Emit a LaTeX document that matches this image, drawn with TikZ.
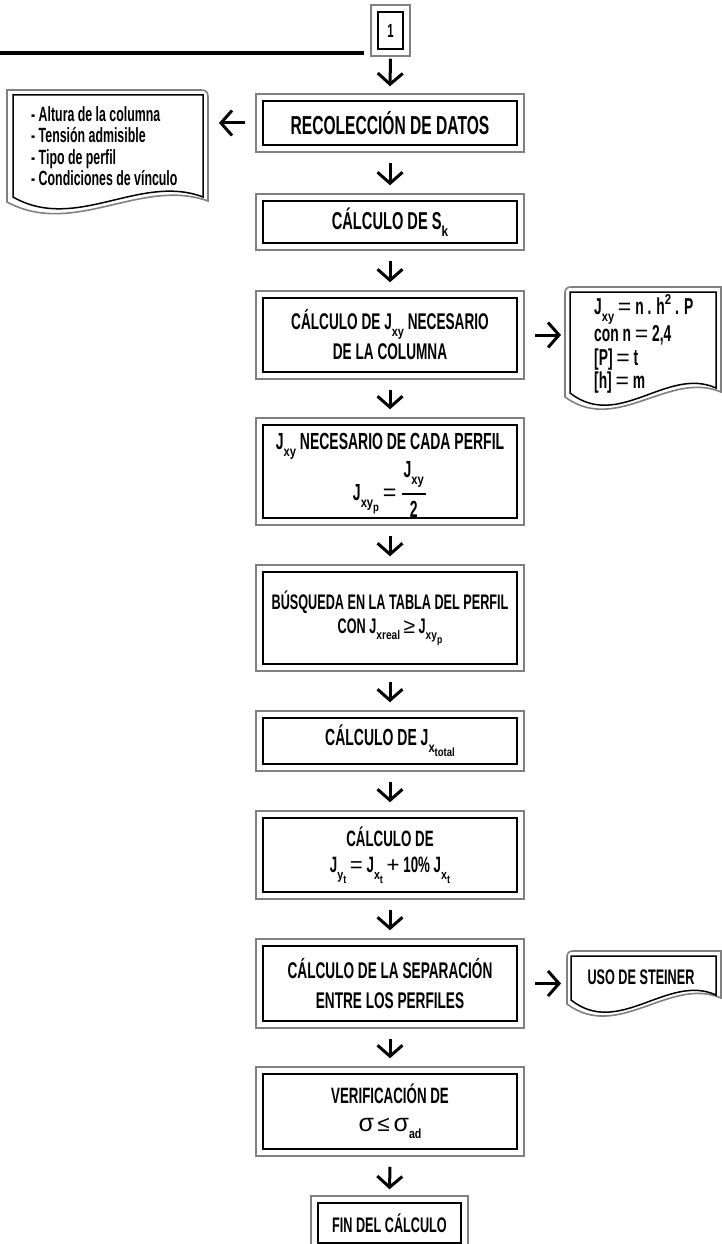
\documentclass[tikz,border=0pt]{standalone}
\usepackage{fontspec}
\setmainfont{Liberation Sans}[FakeStretch=0.6]
\newfontfamily\sigfont{Liberation Sans}
\newfontfamily\subfont{Liberation Sans}[FakeStretch=0.8]
\usetikzlibrary{arrows.meta,calc}
\newcommand\dn[1]{\raisebox{-0.3em}{\scalebox{0.6}{\subfont #1}}}
\newcommand\dnn[1]{\raisebox{-0.3em}{\scalebox{0.85}{#1}}}
\newcommand\up[1]{\raisebox{0.45em}{\scalebox{0.62}{\subfont #1}}}
\newcommand\op[1]{{\sigfont\mdseries #1}}
\newcommand\sig{{\sigfont\mdseries\fontsize{25}{25}\selectfont σ}}
\begin{document}
\begin{tikzpicture}[x=1pt,y=-1pt,
  frame/.style={draw=black, line width=1.5pt},
  outerframe/.style={draw=black!50, line width=1.6pt},
  mainbox/.style={frame, minimum width=254pt, inner sep=0pt, align=center},
  fnt/.style 2 args={font=\bfseries\fontsize{#1}{#2}\selectfont},
  arr/.style={line width=3pt, -{Straight Barb[length=11pt,width=25pt]}},
  sheettxt/.style={align=left, inner sep=0pt, anchor=west}
]
\useasboundingbox (0,0) rectangle (722,1244);
\clip (0,0) rectangle (722,1244);

% top line and connector box
\draw[line width=4pt] (0,53) -- (364,53);
\node[frame, minimum width=25pt, minimum height=37pt, inner sep=0pt, fnt={19}{20}] (b1) at (390.5,30.5) {1};

% main boxes
\node[mainbox, fnt={26}{28}, minimum height=44pt] (rec) at (390,123) {RECOLECCIÓN DE DATOS};
\node[mainbox, fnt={24.4}{28}, minimum height=42pt] (sk) at (390,222) {CÁLCULO DE S\dn{k}};
\node[mainbox, fnt={22.7}{30}, minimum height=74pt] (jxy) at (390,335) {CÁLCULO DE J\dn{xy} NECESARIO\\DE LA COLUMNA};
\node[mainbox, fnt={23.3}{26}, minimum height=93pt] (nec) at (390,471.5) {\rule{0pt}{24pt}J\dn{xy} NECESARIO DE CADA PERFIL\\[1pt]J\dn{xy\dnn{p}} \op{=} $\displaystyle{\hbox{\kern2pt J\dn{xy}\kern2pt}\above1.8pt\hbox{2}}$};
\node[mainbox, fnt={21.1}{24}, minimum height=92pt] (bus) at (390,618) {BÚSQUEDA EN LA TABLA DEL PERFIL\\CON J\dn{xreal} \op{≥} J\dn{xy\dnn{p}}};
\node[mainbox, fnt={23.3}{24}, minimum height=46pt] (jxt) at (390,741) {CÁLCULO DE J\dn{x\dnn{total}}};
\node[mainbox, fnt={22.2}{26}, minimum height=74pt] (jyt) at (390,855) {CÁLCULO DE\\J\dn{y\dnn{t}} \op{=} J\dn{x\dnn{t}} \op{+} 10\% J\dn{x\dnn{t}}};
\node[mainbox, fnt={22.7}{30}, minimum height=75pt] (sep) at (390,983.5) {CÁLCULO DE LA SEPARACIÓN\\ENTRE LOS PERFILES};
\node[mainbox, fnt={22.2}{28}, minimum height=75pt] (ver) at (390,1111.5) {VERIFICACIÓN DE\\\sig\ \op{≤} \sig\dn{ad}};
\node[frame, minimum width=143pt, minimum height=40pt, inner sep=0pt, fnt={21.1}{24}] (fin) at (389.5,1223) {FIN DEL CÁLCULO};

\foreach \n in {b1,rec,sk,jxy,nec,bus,jxt,jyt,sep,ver,fin}
  \draw[outerframe] ([shift={(-6.5pt,6.5pt)}]\n.north west) rectangle ([shift={(6.5pt,-6.5pt)}]\n.south east);

% document sheets
\draw[outerframe] (7,90) -- (201,90) .. controls (206,90) and (208,92) .. (208,97) -- (208,201)
   .. controls (141,177) and (74,238) .. (7,202) -- cycle;
\draw[frame] (13,95) -- (203,95) -- (203,197) .. controls (140,173) and (76,233) .. (13,197) -- cycle;

\draw[outerframe] (565,293) .. controls (565,289) and (567,287) .. (571,287) -- (721,287) -- (721,392)
   .. controls (669,370) and (617,435) .. (565,397) -- cycle;
\draw[frame] (570,292) -- (716,292) -- (716,388) .. controls (667,366) and (619,431) .. (570,393) -- cycle;

\draw[outerframe] (567,957) .. controls (567,953) and (569,951) .. (573,951) -- (721,951) -- (721,998)
   .. controls (670,976) and (618,1042) .. (567,1004) -- cycle;
\draw[frame] (571,956) -- (716,956) -- (716,995) .. controls (668,973) and (619,1038) .. (571,1000) -- cycle;

\node[sheettxt, fnt={20.6}{21.5}] (dataTxt) at (31,146) {- Altura de la columna\\- Tensión admisible\\- Tipo de perfil\\- Condiciones de vínculo};
\node[sheettxt, fnt={23}{23.5}] (formTxt) at (594,344) {J\dn{xy} \op{=} n . h\up{2}\ . P\\con n \op{=} 2,4\\{}[P] \op{=} t\\{}[h] \op{=} m};
\node[fnt={21.1}{24}, inner sep=0pt] (steinerTxt) at (641,977) {USO DE STEINER};

\coordinate (dataEdge) at (219,0);
\coordinate (formEdge) at (561,0);
\coordinate (steinerEdge) at (561,0);

% connectors
\draw[arr] ([yshift=-9pt]b1.south) -- ([yshift=14pt]rec.north);
\foreach \a/\b in {rec/sk,sk/jxy,jxy/nec,nec/bus,bus/jxt,jxt/jyt,jyt/sep,sep/ver}
  \draw[arr] ([yshift=-17pt]\a.south) -- ([yshift=15pt]\b.north);
\draw[arr] ([yshift=-17pt]ver.south) -- ([yshift=13pt]fin.north);
\draw[arr] ([xshift=-17pt]rec.west) -- (rec.west -| dataEdge);
\draw[arr] ([xshift=17pt]jxy.east) -- (jxy.east -| formEdge);
\draw[arr] ([xshift=17pt]sep.east) -- (sep.east -| steinerEdge);
\end{tikzpicture}
\end{document}
